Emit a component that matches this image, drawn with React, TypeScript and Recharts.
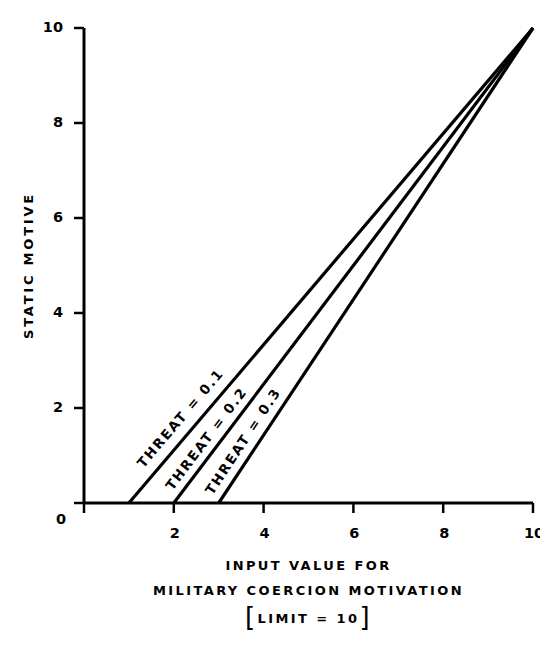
import { LineChart, Line, XAxis, YAxis } from 'recharts'

// values
const inputTicks = [0, 2, 4, 6, 8, 10]
const motiveTicks = [0, 2, 4, 6, 8, 10]
const threat01 = [{ input: 1, motive: 0 }, { input: 10, motive: 10 }]
const threat02 = [{ input: 2, motive: 0 }, { input: 10, motive: 10 }]
const threat03 = [{ input: 3, motive: 0 }, { input: 10, motive: 10 }]
const threatNames = ['THREAT = 0.1', 'THREAT = 0.2', 'THREAT = 0.3']
const xTitle = ['INPUT VALUE FOR', 'MILITARY COERCION MOTIVATION', 'LIMIT = 10']
const yTitle = 'STATIC MOTIVE'

const W = 540
const H = 640
const M = { top: 20, right: 15, bottom: 0, left: 0 }
const Y_W = 76
const X_H = 145
const PLOT_W = W - M.left - M.right - Y_W
const PLOT_H = H - M.top - M.bottom - X_H
const PLOT_BOTTOM = M.top + PLOT_H
const CX = M.left + Y_W + PLOT_W / 2
const FONT = '"DejaVu Sans", Arial, sans-serif'
const INK = '#000'

const XTick = (props: any) => {
  const { x, payload } = props
  if (payload.value === 0) return <g />
  return (
    <text x={x + 1} y={PLOT_BOTTOM + 35} textAnchor="middle" fontFamily={FONT} fontWeight={700} fontSize={14.5} fill={INK}>
      {payload.value}
    </text>
  )
}

const YTick = (props: any) => {
  const { y, payload } = props
  const zero = payload.value === 0
  return (
    <text x={zero ? 58 : 55} y={y + (zero ? 21 : 4)} textAnchor="end" fontFamily={FONT} fontWeight={700} fontSize={14.5} fill={INK}>
      {payload.value}
    </text>
  )
}

// rotated label sitting just left of a line, measured from its start point
const threatLabel = (name: string, start: number, along: number, perp: number) => (props: any) => {
  const { x, y, index } = props
  if (index !== 0) return <g key={`l${index}`} />
  const a = Math.atan2(PLOT_H, (PLOT_W * (10 - start)) / 10)
  const cx = x + along * Math.cos(a) - perp * Math.sin(a)
  const cy = y - along * Math.sin(a) - perp * Math.cos(a)
  const deg = (a * 180) / Math.PI
  return (
    <text
      key="lab"
      x={cx}
      y={cy}
      dy="0.36em"
      textAnchor="middle"
      transform={`rotate(${-deg} ${cx} ${cy})`}
      fontFamily={FONT}
      fontWeight={700}
      fontSize={13.5}
      letterSpacing={1.8}
      fill={INK}
    >
      {name}
    </text>
  )
}

const XTitle = () => (
  <g fontFamily={FONT} fontWeight={700} fontSize={13} fill={INK} letterSpacing={2.4}>
    <text x={CX} y={562} textAnchor="middle">{xTitle[0]}</text>
    <text x={CX} y={587} textAnchor="middle">{xTitle[1]}</text>
    <text x={CX} y={615} textAnchor="middle">
      <tspan fontSize={26} fontWeight={400} dy={3}>[</tspan>
      <tspan dy={-3}>{xTitle[2]}</tspan>
      <tspan fontSize={26} fontWeight={400} dy={3}>]</tspan>
    </text>
  </g>
)

const YTitle = () => (
  <text
    x={20}
    y={M.top + PLOT_H / 2}
    dy="0.36em"
    textAnchor="middle"
    transform={`rotate(-90 20 ${M.top + PLOT_H / 2})`}
    fontFamily={FONT}
    fontWeight={700}
    fontSize={13}
    letterSpacing={2.8}
    fill={INK}
  >
    {yTitle}
  </text>
)

export default function App() {
  return (
    <div style={{ width: W, height: H, background: '#fff' }}>
      <LineChart width={W} height={H} margin={M}>
        <XAxis
          type="number"
          dataKey="input"
          domain={[0, 10]}
          ticks={inputTicks}
          height={X_H}
          axisLine={{ stroke: INK, strokeWidth: 3 }}
          tickLine={{ stroke: INK, strokeWidth: 2.5 }}
          tickSize={10}
          tick={XTick}
          label={<XTitle />}
        />
        <YAxis
          type="number"
          dataKey="motive"
          domain={[0, 10]}
          ticks={motiveTicks}
          width={Y_W}
          axisLine={{ stroke: INK, strokeWidth: 3 }}
          tickLine={{ stroke: INK, strokeWidth: 2.5 }}
          tickSize={10}
          tick={YTick}
          label={<YTitle />}
        />
        <Line data={threat01} dataKey="motive" stroke={INK} strokeWidth={3.2} dot={false} isAnimationActive={false}
          label={threatLabel(threatNames[0], threat01[0].input, 98, 16)} />
        <Line data={threat02} dataKey="motive" stroke={INK} strokeWidth={3.2} dot={false} isAnimationActive={false}
          label={threatLabel(threatNames[1], threat02[0].input, 71, 13)} />
        <Line data={threat03} dataKey="motive" stroke={INK} strokeWidth={3.2} dot={false} isAnimationActive={false}
          label={threatLabel(threatNames[2], threat03[0].input, 65, 14)} />
      </LineChart>
    </div>
  )
}
